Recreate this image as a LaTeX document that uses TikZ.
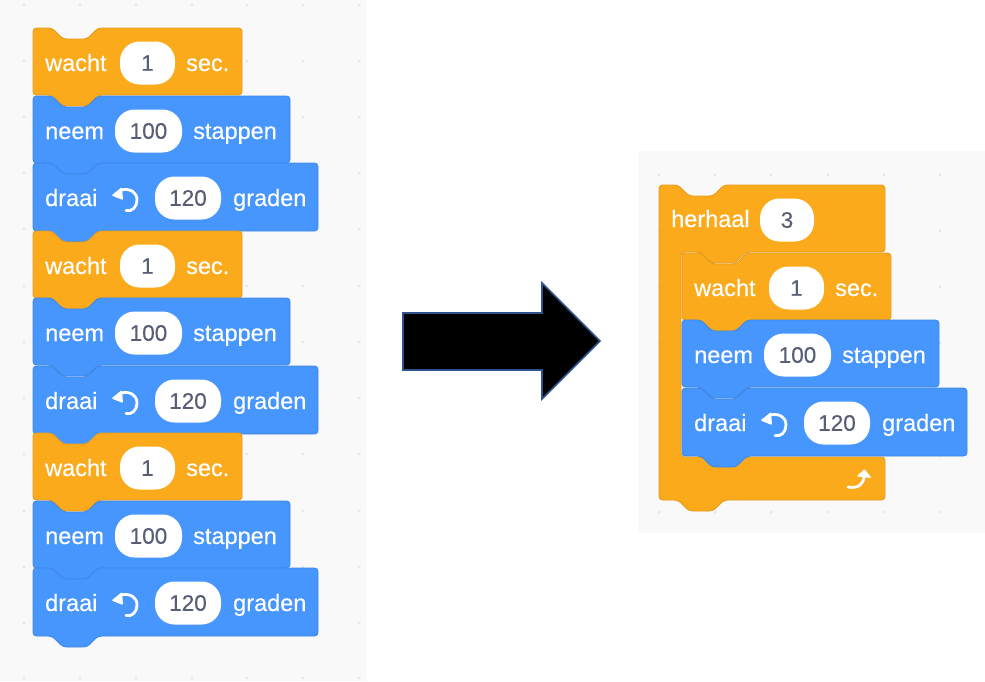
\documentclass[tikz,border=0pt]{standalone}
\usepackage{fontspec}
\setmainfont{Liberation Sans}
\newfontfamily\blockfont[FakeBold=0.35]{Liberation Sans}
\newfontfamily\numfont[FakeBold=0.2]{Liberation Sans}
\definecolor{orangeblk}{HTML}{FBAA1C}
\definecolor{orangeedge}{HTML}{E39C20}
\definecolor{blueblk}{HTML}{4796FD}
\definecolor{blueedge}{HTML}{4088E6}
\definecolor{numtxt}{HTML}{575E75}
\definecolor{canvas}{HTML}{F9F9F9}
\definecolor{dotcol}{HTML}{E6E6E6}
\definecolor{arrowedge}{HTML}{2F528F}
\tikzset{
  blockshape/.style={line width=0.9pt,rounded corners=3.5pt,line join=round},
  orangeb/.style={blockshape,fill=orangeblk,draw=orangeedge},
  blueb/.style={blockshape,fill=blueblk,draw=blueedge},
  lbl/.style={anchor=base west,inner sep=0pt,text=white,font=\blockfont\fontsize{23.5}{25}\selectfont},
  pill/.style={fill=white,inner sep=0pt,minimum height=43pt,rounded corners=19.5pt,
    text=numtxt,font=\numfont\fontsize{22.5}{25}\selectfont},
  griddot/.style={fill=dotcol,draw=none},
  iconline/.style={draw=white,line width=2.8pt,line cap=round},
}
% Stack-block outline: width #1, body height #2, with notch on top and tab below
\newcommand{\blockpath}[2]{(8,0) -- (19,0) -- (30,11) -- (54,11) -- (65,0) -- (#1,0) -- (#1,#2)
  -- (65,#2) -- (54,#2+11) -- (30,#2+11) -- (19,#2) -- (0,#2) -- (0,0) -- cycle}
\newcommand{\wachtblock}[3]{%
  \begin{scope}[shift={(#2,#3)}]
    \draw[orangeb] \blockpath{209}{67};
    \node[lbl] (#1a) at (12,43) {wacht};
    \node[pill,minimum width=55pt] (#1b) at (114.5,35) {1};
    \node[lbl] (#1c) at (153,43) {sec.};
  \end{scope}}
\newcommand{\neemblock}[3]{%
  \begin{scope}[shift={(#2,#3)}]
    \draw[blueb] \blockpath{257}{67};
    \node[lbl] (#1a) at (12,43) {neem};
    \node[pill,minimum width=67pt] (#1b) at (115.5,35) {100};
    \node[lbl] (#1c) at (160,43) {stappen};
  \end{scope}}
\newcommand{\draaiblock}[3]{%
  \begin{scope}[shift={(#2,#3)}]
    \draw[blueb] \blockpath{285}{68};
    \node[lbl] (#1a) at (12,43) {draai};
    % counter-clockwise turn icon
    \draw[iconline] (93,47.5) .. controls (99,49) and (104,44) .. (104,37)
      .. controls (104,29) and (97,25) .. (88,27);
    \fill[white,rounded corners=1pt] (78.5,32.5) -- (89,24) -- (90,37) -- cycle;
    \node[pill,minimum width=66pt] (#1b) at (155,35) {120};
    \node[lbl] (#1c) at (200,43) {graden};
  \end{scope}}
\begin{document}
\begin{tikzpicture}[x=1pt,y=-1pt]
  \useasboundingbox (0,0) rectangle (985,681);
  % left canvas with its dot grid
  \fill[canvas] (0,0) rectangle (366,681);
  \foreach \gx in {24,80,136,192,247,303,359}
    \foreach \gy in {5,61,117,173,229,286,342,398,454,511,567,623,678}
      \fill[griddot] (\gx,\gy) circle[radius=1.5];
  % right canvas with its dot grid
  \fill[canvas] (638,151) rectangle (985,533);
  \foreach \gx in {659,715,771,828,884,940}
    \foreach \gy in {175,231,287,343,400,456,512}
      \fill[griddot] (\gx,\gy) circle[radius=1.5];
  % long program, top to bottom
  \wachtblock{wa}{33}{28}
  \neemblock{na}{33}{96}
  \draaiblock{da}{33}{163}
  \wachtblock{wb}{33}{231}
  \neemblock{nb}{33}{298}
  \draaiblock{db}{33}{366}
  \wachtblock{wc}{33}{433}
  \neemblock{nc}{33}{501}
  \draaiblock{dc}{33}{568}
  % block arrow between the two programs
  \draw[fill=black,draw=arrowedge,line width=1.6pt,miter limit=10]
    (403,313) -- (542,313) -- (542,283) -- (600,341) -- (542,399) -- (542,370) -- (403,370) -- cycle;
  % repeat loop with its body
  \begin{scope}[shift={(659,185)}]
    \draw[orangeb] (8,0) -- (19,0) -- (30,11) -- (54,11) -- (65,0) -- (226,0) -- (226,67)
      -- (87,67) -- (76,78) -- (52,78) -- (41,67) -- (22,67) -- (22,272) -- (226,272) -- (226,315)
      -- (65,315) -- (54,326) -- (30,326) -- (19,315) -- (0,315) -- (0,0) -- cycle;
    \node[lbl] (ha) at (12,42) {herhaal};
    \node[pill,minimum width=54pt] (hb) at (128,35) {3};
    % loop-back icon
    \draw[iconline] (189,302) .. controls (199,304) and (205,299) .. (205,291);
    \fill[white,rounded corners=1pt] (205.5,284) -- (197.5,291.5) -- (212.5,293) -- cycle;
  \end{scope}
  \wachtblock{wd}{682}{253}
  \neemblock{nd}{682}{320}
  \draaiblock{dd}{682}{388}
\end{tikzpicture}
\end{document}
